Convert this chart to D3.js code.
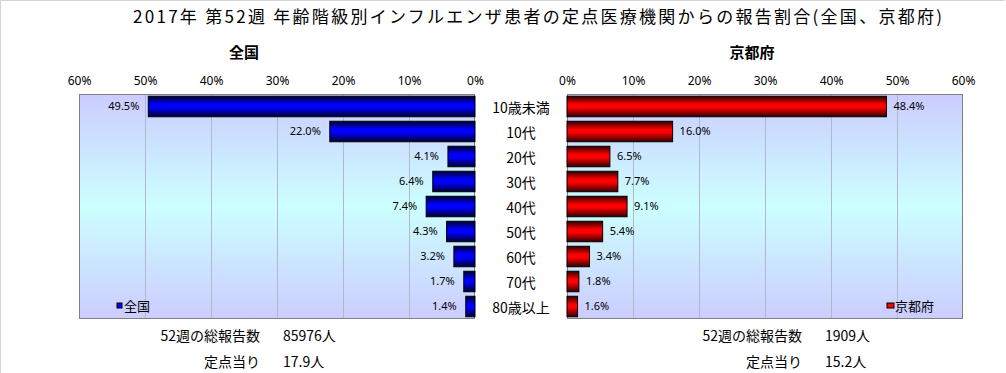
<!DOCTYPE html>
<html>
<head>
<meta charset="utf-8">
<title>2017年 第52週 年齢階級別インフルエンザ患者の報告割合</title>
<script src="https://d3js.org/d3.v7.min.js"></script>
<style>
    body { margin: 0; background: #fff; }
    svg { display: block; font-family: "Noto Sans CJK JP", "Noto Sans", sans-serif; }
</style>
</head>
<body>
<svg class="chart"></svg>
<script>
// data
const categories = ["10歳未満", "10代", "20代", "30代", "40代", "50代", "60代", "70代", "80歳以上"];
const zenkoku = [49.5, 22.0, 4.1, 6.4, 7.4, 4.3, 3.2, 1.7, 1.4];
const kyoto = [48.4, 16.0, 6.5, 7.7, 9.1, 5.4, 3.4, 1.8, 1.6];
const ticks = [0, 10, 20, 30, 40, 50, 60];
const totals = { zenkoku: "85976人", kyoto: "1909人" };
const perSite = { zenkoku: "17.9人", kyoto: "15.2人" };

var width = 1006, height = 373;
var plotTop = 94, plotBottom = 319;

var svg = d3.select(".chart").attr("width", width).attr("height", height);

// gradients
var defs = svg.append("defs");
var bg = defs.append("linearGradient").attr("id", "bg").attr("x1", 0).attr("y1", 0).attr("x2", 0).attr("y2", 1);
bg.append("stop").attr("offset", "0%").attr("stop-color", "#ccccff");
bg.append("stop").attr("offset", "50%").attr("stop-color", "#ccffff");
bg.append("stop").attr("offset", "100%").attr("stop-color", "#ccccff");

function barGrad(id, dark, bright) {
    var g = defs.append("linearGradient").attr("id", id).attr("x1", 0).attr("y1", 0).attr("x2", 0).attr("y2", 1);
    g.append("stop").attr("offset", "0%").attr("stop-color", dark);
    g.append("stop").attr("offset", "40%").attr("stop-color", bright);
    g.append("stop").attr("offset", "55%").attr("stop-color", bright);
    g.append("stop").attr("offset", "100%").attr("stop-color", dark);
}
barGrad("blueBar", "#000030", "#0000ff");
barGrad("redBar", "#300000", "#ff0000");

// outer border (top + left only visible)
svg.append("line").attr("x1", 0).attr("x2", 1005).attr("y1", 0.5).attr("y2", 0.5).attr("stroke", "#d4d4d4");
svg.append("line").attr("x1", 0.5).attr("x2", 0.5).attr("y1", 0).attr("y2", height).attr("stroke", "#d4d4d4");

// title
svg.append("text")
    .attr("x", 133).attr("y", 23)
    .attr("textLength", 809).attr("lengthAdjust", "spacing")
    .style("font-size", "17px")
    .text("2017年 第52週 年齢階級別インフルエンザ患者の定点医療機関からの報告割合(全国、京都府)");

var y = d3.scaleBand().domain(categories).range([plotTop, plotBottom]).paddingInner(0.18).paddingOuter(0.09);

var xL = d3.scaleLinear().domain([0, 60]).range([475, 79]);
var xR = d3.scaleLinear().domain([0, 60]).range([567, 963]);

function panel(x, values, grad, side) {
    var x0 = x(0), x60 = x(60);
    var left = Math.min(x0, x60), right = Math.max(x0, x60);
    var g = svg.append("g");

    g.append("rect").attr("x", left).attr("y", plotTop).attr("width", right - left).attr("height", plotBottom - plotTop)
        .attr("fill", "url(#bg)");

    // grid
    g.selectAll(".grid").data(ticks.filter(t => t > 0 && t < 60)).enter().append("line")
        .attr("x1", d => x(d) + 0.5).attr("x2", d => x(d) + 0.5)
        .attr("y1", plotTop).attr("y2", plotBottom)
        .attr("stroke", "#b0b8cc");

    g.append("rect").attr("x", left + 0.5).attr("y", plotTop + 0.5).attr("width", right - left - 1).attr("height", plotBottom - plotTop - 1)
        .attr("fill", "none").attr("stroke", "#808080");

    // top axis labels
    var axis = d3.axisTop(x).tickValues(ticks).tickFormat(d => d + "%").tickSize(0);
    var ax = g.append("g").attr("transform", "translate(0,85)").call(axis);
    ax.select(".domain").remove();
    ax.selectAll("text").attr("dy", 0).attr("y", 0).style("font-size", "12px").style("font-family", "'Noto Sans', sans-serif").attr("fill", "#000");

    // bars
    g.selectAll(".bar").data(values).enter().append("rect")
        .attr("x", d => Math.min(x(0), x(d)))
        .attr("y", (d, i) => y(categories[i]))
        .attr("width", d => Math.abs(x(d) - x(0)))
        .attr("height", y.bandwidth())
        .attr("fill", "url(#" + grad + ")")
        .attr("stroke", "#000").attr("stroke-width", 1);

    // value labels
    g.selectAll(".val").data(values).enter().append("text")
        .attr("x", d => side === "L" ? x(d) - 9 : x(d) + 7)
        .attr("y", (d, i) => y(categories[i]) + y.bandwidth() / 2)
        .attr("dy", "0.35em")
        .attr("text-anchor", side === "L" ? "end" : "start")
        .style("font-size", "11px").style("font-family", "'Noto Sans', sans-serif")
        .text(d => d.toFixed(1) + "%");
}

panel(xL, zenkoku, "blueBar", "L");
panel(xR, kyoto, "redBar", "R");

// panel titles
svg.append("text").attr("x", 244).attr("y", 58).attr("text-anchor", "middle")
    .style("font-size", "15px").style("font-weight", "bold").text("全国");
svg.append("text").attr("x", 752).attr("y", 58).attr("text-anchor", "middle")
    .style("font-size", "15px").style("font-weight", "bold").text("京都府");

// category labels
svg.selectAll(".cat").data(categories).enter().append("text")
    .attr("x", 521).attr("y", d => y(d) + y.bandwidth() / 2 + 2)
    .attr("dy", "0.35em").attr("text-anchor", "middle")
    .style("font-size", "14px").text(d => d);

// legends
svg.append("rect").attr("x", 117).attr("y", 303).attr("width", 5).attr("height", 5)
    .attr("fill", "#0000ff").attr("stroke", "#000");
svg.append("text").attr("x", 124).attr("y", 311).style("font-size", "13px").text("全国");
svg.append("rect").attr("x", 887).attr("y", 303).attr("width", 7).attr("height", 5)
    .attr("fill", "#ff0000").attr("stroke", "#000");
svg.append("text").attr("x", 895).attr("y", 311).style("font-size", "13px").text("京都府");

// footers
function footer(xr, total, per) {
    svg.append("text").attr("x", xr).attr("y", 341).attr("text-anchor", "end").style("font-size", "14px").text("52週の総報告数");
    svg.append("text").attr("x", xr + 23).attr("y", 341).style("font-size", "14px").text(total);
    svg.append("text").attr("x", xr).attr("y", 367).attr("text-anchor", "end").style("font-size", "14px").text("定点当り");
    svg.append("text").attr("x", xr + 23).attr("y", 367).style("font-size", "14px").text(per);
}
footer(260, totals.zenkoku, perSite.zenkoku);
footer(802, totals.kyoto, perSite.kyoto);
</script>
</body>
</html>
